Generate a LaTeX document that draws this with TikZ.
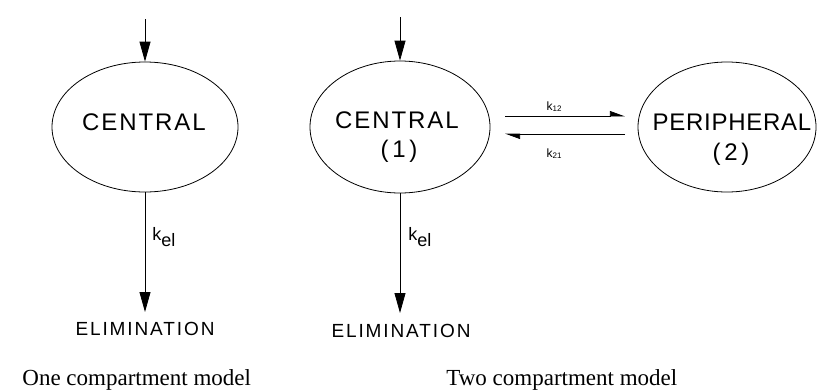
\documentclass[tikz,border=0pt]{standalone}
\usepackage{fontspec}
\setmainfont{Liberation Serif}
\setsansfont{Liberation Sans}
\usetikzlibrary{arrows.meta,shapes.geometric}
\begin{document}
\begin{tikzpicture}[x=1pt,y=-1pt,line width=0.8pt,
  comp/.style={draw,ellipse,inner sep=0pt},
  lab/.style={anchor=base,inner sep=0pt,font=\sffamily\fontsize{24}{24}\selectfont},
  elim/.style={anchor=base,inner sep=0pt,font=\sffamily\fontsize{19}{19}\selectfont\addfontfeature{LetterSpace=10}},
  kel/.style={anchor=base west,inner sep=0pt,font=\sffamily\fontsize{18}{18}\selectfont},
  ksmall/.style={anchor=base,inner sep=0pt,font=\sffamily\fontsize{12}{12}\selectfont},
  capt/.style={anchor=base west,inner sep=0pt,font=\fontsize{23}{23}\selectfont},
  flow/.style={-{Triangle[length=20pt,width=11pt]}},
  exch/.style={-{Triangle[harpoon,length=14pt,width=10pt]}}]
\useasboundingbox (0,0) rectangle (818,389);

% one compartment model
\node[comp,minimum width=186pt,minimum height=130pt] (c1) at (145,127) {};
\node[lab,font=\sffamily\fontsize{24}{24}\selectfont\addfontfeature{LetterSpace=8}] (t1) at (144,130) {CENTRAL};
\coordinate (in1) at (145,19);
\coordinate (out1) at (145,312);
\draw[flow] (in1) -- (c1.north);
\draw[flow] (c1.south) -- (out1);
\node[kel] (k1) at (152,240) {k\raisebox{-6pt}{el}};
\node[elim] (e1) at (145,335) {ELIMINATION};
\node[capt] (cap1) at (22,385) {One compartment model};

% two compartment model
\node[comp,minimum width=180pt,minimum height=132pt] (c2) at (400,127) {};
\node[lab,font=\sffamily\fontsize{24}{24}\selectfont\addfontfeature{LetterSpace=8}] (t2) at (397,128) {CENTRAL};
\node[lab,font=\sffamily\fontsize{24}{24}\selectfont\addfontfeature{LetterSpace=15}] (n2) at (399,157) {(1)};
\node[comp,minimum width=178pt,minimum height=130pt] (c3) at (727,127) {};
\node[lab,font=\sffamily\fontsize{24}{24}\selectfont\addfontfeature{LetterSpace=3}] (t3) at (732,130) {PERIPHERAL};
\node[lab,font=\sffamily\fontsize{24}{24}\selectfont\addfontfeature{LetterSpace=15}] (n3) at (731,160) {(2)};
\coordinate (in2) at (400,17);
\coordinate (out2) at (400,313);
\draw[flow] (in2) -- (c2.north);
\draw[flow] (c2.south) -- (out2);
\node[kel] (k2) at (408,240) {k\raisebox{-6pt}{el}};
\node[elim] (e2) at (401,337) {ELIMINATION};

\coordinate (a1) at (505,116);
\coordinate (b1) at (625,116);
\coordinate (a2) at (625,134);
\coordinate (b2) at (505,134);
\draw[exch] (a1) -- (b1);
\draw[exch] (a2) -- (b2);
\node[ksmall] (k12) at (554,110) {k{\fontsize{8}{8}\selectfont\raisebox{-1pt}{12}}};
\node[ksmall] (k21) at (554,157) {k{\fontsize{8}{8}\selectfont\raisebox{-1pt}{21}}};

\node[capt] (cap2) at (446,385) {Two compartment model};
\end{tikzpicture}
\end{document}
